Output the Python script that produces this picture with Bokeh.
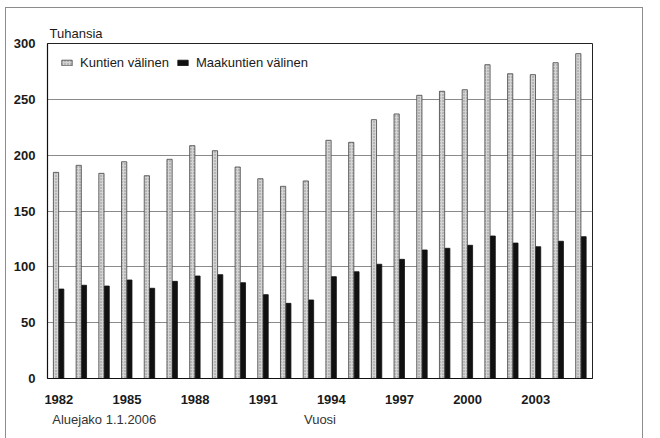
from bokeh.plotting import figure
from bokeh.models import (Range1d, FixedTicker, Legend, LegendItem,
                          LinearAxis, Title)
from bokeh.embed import file_html
from bokeh.resources import INLINE

years = list(range(1982, 2006))
kuntien = [184.6, 190.9, 183.7, 194.1, 181.6, 196.3, 208.5, 204.0, 189.4, 178.9, 172.1, 176.9,
           213.3, 211.5, 231.8, 236.9, 253.6, 257.2, 258.6, 281.0, 272.9, 272.1, 282.8, 290.9]
maakuntien = [80.1, 83.5, 82.8, 88.2, 80.8, 87.0, 91.8, 93.0, 85.8, 75.1, 67.3, 70.3,
              91.2, 95.6, 102.3, 106.7, 115.1, 116.6, 119.3, 127.6, 121.3, 118.0, 122.9, 127.0]
tick_years = [1982, 1985, 1988, 1991, 1994, 1997, 2000, 2003]
y_ticks = [0, 50, 100, 150, 200, 250, 300]

FONT = "Liberation Sans"

p = figure(width=660, height=438, output_backend="svg", toolbar_location=None,
           x_range=Range1d(1981.5, 2005.5), y_range=Range1d(0, 300),
           min_border_left=47, min_border_right=68, min_border_top=43, min_border_bottom=60)
p.background_fill_color = "white"
p.border_fill_color = "white"
p.border_fill_alpha = 0
p.outline_line_color = "#222222"
p.outline_line_width = 1

# light grey outer frame of the original figure (page decoration)
G = "linear-gradient(#8c8c8c, #8c8c8c)"
p.styles = {
    "background-color": "white",
    "background-image": f"{G}, {G}, {G}",
    "background-position": "5px 7px, 5px 7px, 642px 7px",
    "background-size": "1px 440px, 638px 1px, 1px 440px",
    "background-repeat": "no-repeat",
}

x_light = [y - 0.125 for y in years]
x_dark = [y + 0.115 for y in years]
r1 = p.vbar(x=x_light, top=kuntien, width=0.23, bottom=0,
            fill_color="#d4d4d4", line_color="#444444", line_width=0.8,
            hatch_pattern="dot", hatch_color="#888888", hatch_scale=3, hatch_weight=0.6)
r2 = p.vbar(x=x_dark, top=maakuntien, width=0.21, bottom=0,
            fill_color="#111111", line_color="#111111", line_width=0.8)

p.xgrid.grid_line_color = None
p.ygrid.grid_line_color = "#8a8a8a"
p.ygrid.grid_line_width = 1
p.ygrid.ticker = FixedTicker(ticks=y_ticks)

xax = p.xaxis[0]
yax = p.yaxis[0]
yax.ticker = FixedTicker(ticks=y_ticks)
xax.ticker = FixedTicker(ticks=tick_years)
for ax in (xax, yax):
    ax.major_label_text_font = FONT
    ax.major_label_text_font_size = "13px"
    ax.major_label_text_font_style = "bold"
    ax.major_label_text_color = "#1a1a1a"
    ax.major_tick_line_color = None
    ax.minor_tick_line_color = None
    ax.axis_line_color = "#111111"
    ax.axis_line_width = 1.2
yax.major_label_standoff = 6
xax.major_label_standoff = 10

# bottom row: source note and axis title, as a second (line-less) axis
note_pos = [1984, 1993.5]
note_text = ["Aluejako 1.1.2006", "Vuosi"]
ax2 = LinearAxis(ticker=FixedTicker(ticks=note_pos),
                 major_label_overrides=dict(zip(note_pos, note_text)),
                 axis_line_color=None, major_tick_line_color=None,
                 minor_tick_line_color=None, major_label_standoff=-1,
                 major_label_text_font=FONT, major_label_text_font_size="13px",
                 major_label_text_color="#333333")
p.add_layout(ax2, "below")

p.add_layout(Title(text="Tuhansia", align="left", offset=2, standoff=5,
                   text_font=FONT, text_font_size="13px", text_font_style="normal",
                   text_color="#1a1a1a"), "above")

legend = Legend(items=[LegendItem(label="Kuntien välinen", renderers=[r1]),
                       LegendItem(label="Maakuntien välinen", renderers=[r2])],
                orientation="horizontal", location=(13, 308),
                glyph_width=13, glyph_height=7, label_standoff=7, spacing=7,
                padding=10, margin=0, border_line_color=None,
                background_fill_alpha=0,
                label_text_font=FONT, label_text_font_size="13px",
                label_text_color="#1a1a1a", label_height=14)
p.add_layout(legend)

open("out.html", "w").write(file_html(p, INLINE))
